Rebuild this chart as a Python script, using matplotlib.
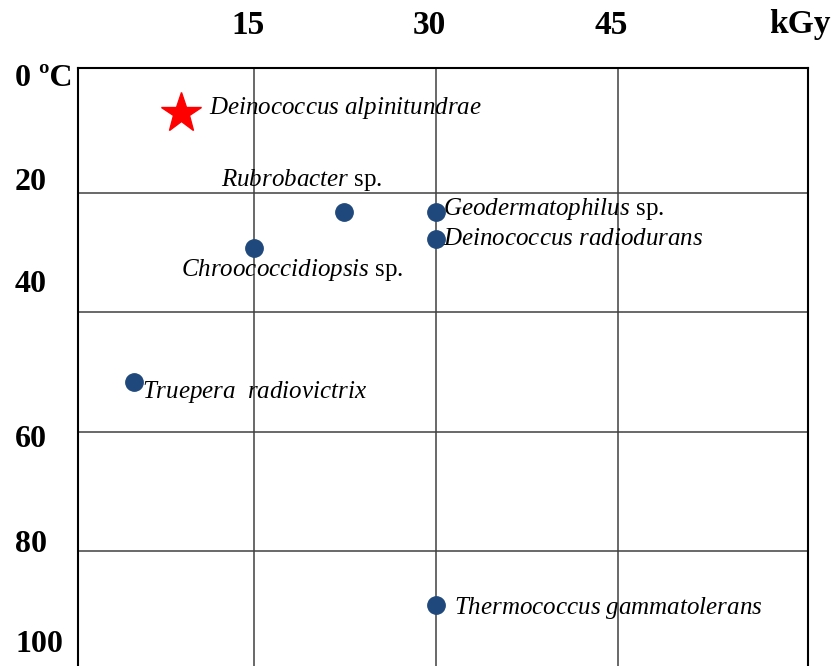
import matplotlib
matplotlib.use("Agg")
import matplotlib.pyplot as plt
from matplotlib.transforms import offset_copy

plt.rcParams['font.family'] = ['Liberation Serif', 'DejaVu Serif']
plt.rcParams['mathtext.fontset'] = 'custom'
plt.rcParams['mathtext.rm'] = 'Liberation Serif'
plt.rcParams['mathtext.it'] = 'Liberation Serif:italic'

# ---- data ----
species = ["Deinococcus alpinitundrae", "Rubrobacter sp.", "Geodermatophilus sp.",
           "Deinococcus radiodurans", "Chroococcidiopsis sp.", "Truepera  radiovictrix",
           "Thermococcus gammatolerans"]
radiation_kgy = [9.0, 22.4, 30.0, 30.0, 15.0, 5.1, 30.0]
temperature_c = [6.6, 23.2, 23.2, 27.7, 29.2, 51.6, 88.9]
labels_math = [r"$\mathit{Deinococcus\ alpinitundrae}$",
               r"$\mathit{Rubrobacter}$ sp.",
               r"$\mathit{Geodermatophilus}$ sp.",
               r"$\mathit{Deinococcus\ radiodurans}$",
               r"$\mathit{Chroococcidiopsis}$ sp.",
               r"$\mathit{Truepera\ \ radiovictrix}$",
               r"$\mathit{Thermococcus\ gammatolerans}$"]
x_ticks = [15, 30, 45]
x_tick_labels = ["15", "30", "45"]
x_unit = "kGy"
x_unit_pos = 60
y_grid = [20, 40, 60, 80]
y_tick_labels = ["0 ºC", "20", "40", "60", "80", "100"]
y_tick_values = [0, 20, 40, 60, 80, 100]

# ---- layout/style ----
label_offsets = [(28, 5, 'left'), (-42, 32, 'center'), (7, 3, 'left'), (7, 0, 'left'),
                 (38, -22, 'center'), (8, -10, 'left'), (18, -3, 'left')]
ytick_pix_shift = [5, -10, -28, 8, -7, -26]   # visual offsets of the y labels (pixels, +down)

fig = plt.figure(figsize=(8.32, 6.66), dpi=100)
ax = fig.add_axes([78/832, -5/666, 730/832, 603/666])
ax.set_xlim(0.5, 60.7)
ax.set_ylim(100, -0.9)

for x in x_ticks:
    ax.axvline(x, color='#404040', lw=1.1, zorder=1)
for y in y_grid:
    ax.axhline(y, color='#404040', lw=1.1, zorder=1)
for s in ax.spines.values():
    s.set_linewidth(1.5)
    s.set_color('black')
ax.set_xticks([])
ax.set_yticks([])

# top x labels
for x, lab in zip(x_ticks, x_tick_labels):
    tr = offset_copy(ax.get_xaxis_transform(), fig=fig, x=-6, y=43, units='dots')
    ax.text(x, 1.0, lab, transform=tr, ha='center', va='center', fontsize=24,
            fontweight='bold', clip_on=False)
tr = offset_copy(ax.get_xaxis_transform(), fig=fig, x=0, y=43, units='dots')
ax.text(x_unit_pos, 1.0, x_unit, transform=tr, ha='center', va='center', fontsize=24,
        fontweight='bold', clip_on=False)

# left y labels
for v, lab, sh in zip(y_tick_values, y_tick_labels, ytick_pix_shift):
    tr = offset_copy(ax.get_yaxis_transform(), fig=fig, x=-63, y=-sh, units='dots')
    ax.text(0, v, lab, transform=tr, ha='left', va='center', fontsize=23,
            fontweight='bold', clip_on=False)

# points
ax.plot(radiation_kgy[0], temperature_c[0], marker='*', color='#FF0000', ms=30,
        ls='none', zorder=3, mec='#FF0000')
ax.plot(radiation_kgy[1:], temperature_c[1:], marker='o', color='#1F497D', ms=12.5,
        ls='none', zorder=3)

for x, y, lab, (dx, dy, ha) in zip(radiation_kgy, temperature_c, labels_math, label_offsets):
    ax.annotate(lab, (x, y), xytext=(dx, dy), textcoords='offset pixels',
                ha=ha, va='center', fontsize=18, color='black', zorder=4)

fig.savefig("out.png", dpi=100)
